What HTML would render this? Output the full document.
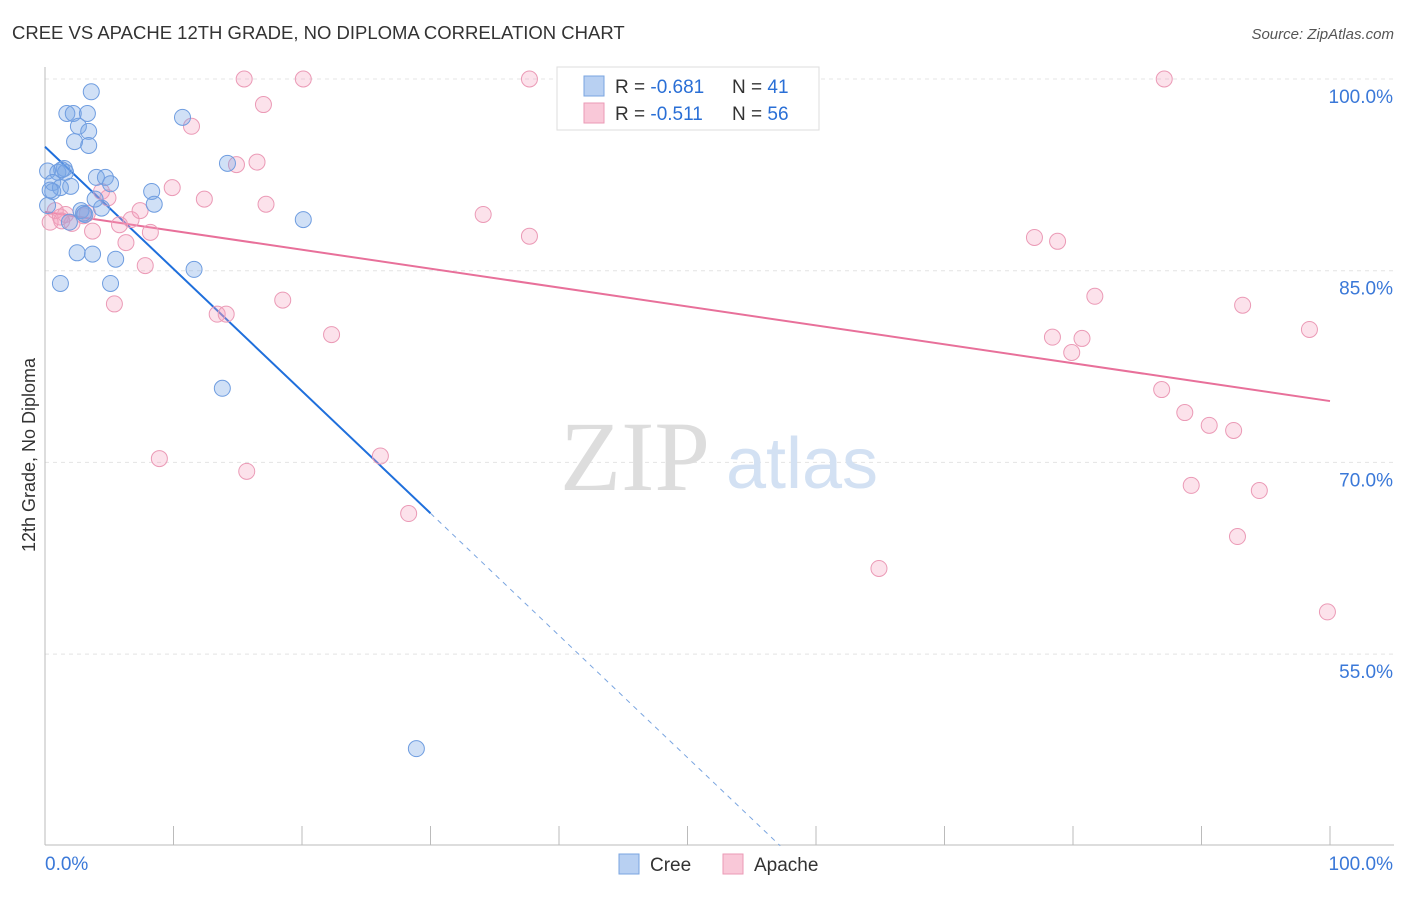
<!DOCTYPE html>
<html><head><meta charset="utf-8"><style>
body{margin:0;background:#fff;font-family:"Liberation Sans",sans-serif;}
</style></head><body>
<svg id="chart" width="1406" height="892" font-family="Liberation Sans, sans-serif">
<text x="12" y="39" font-size="18.5" fill="#333">CREE VS APACHE 12TH GRADE, NO DIPLOMA CORRELATION CHART</text>
<text x="1394" y="39" font-size="15" fill="#555" text-anchor="end" font-style="italic">Source: ZipAtlas.com</text>
<g id="grid"></g>
<g>
<text x="635" y="490" font-size="100" style="font-family:'Liberation Serif',serif" fill="#ddd" text-anchor="middle">ZIP</text>
<text x="802" y="488" font-size="72" fill="#d3e1f3" text-anchor="middle">atlas</text>
</g>
<g id="axes"></g>
<g id="lines"></g>
<g id="points"></g>
<text transform="translate(35,455) rotate(-90)" font-size="18" fill="#333" text-anchor="middle">12th Grade, No Diploma</text>
<g>
<rect x="557" y="67" width="262" height="63" fill="#fff" stroke="#ddd"/>
<rect x="584" y="76" width="20" height="20" fill="#b8d0f2" stroke="#7aa5e0"/>
<rect x="584" y="103" width="20" height="20" fill="#f9c8d8" stroke="#eb9ab6"/>
<text x="615" y="93" font-size="19" fill="#333">R = <tspan fill="#2a6fd6">-0.681</tspan></text>
<text x="732" y="93" font-size="19" fill="#333">N = <tspan fill="#2a6fd6">41</tspan></text>
<text x="615" y="120" font-size="19" fill="#333">R = <tspan fill="#2a6fd6">-0.511</tspan></text>
<text x="732" y="120" font-size="19" fill="#333">N = <tspan fill="#2a6fd6">56</tspan></text>
</g>
<g>
<rect x="619" y="854" width="20" height="20" fill="#b8d0f2" stroke="#7aa5e0"/>
<text x="650" y="871" font-size="19" fill="#333">Cree</text>
<rect x="723" y="854" width="20" height="20" fill="#f9c8d8" stroke="#eb9ab6"/>
<text x="754" y="871" font-size="19" fill="#333">Apache</text>
</g>
</svg>
<script>
const creeX=[3.6,1.7,2.2,3.3,2.6,3.4,2.3,3.4,10.7,14.2,0.2,1.0,1.5,1.6,0.6,1.2,2.0,0.6,4.0,4.7,5.1,8.3,8.5,2.8,3.0,4.4,3.9,1.9,0.2,20.1,2.5,3.7,5.5,11.6,1.2,5.1,13.8,28.9,0.4,3.1,1.3];
const creeY=[99.0,97.3,97.3,97.3,96.3,95.9,95.1,94.8,97.0,93.4,92.8,92.7,93.0,92.7,91.9,91.5,91.6,91.2,92.3,92.3,91.8,91.2,90.2,89.7,89.5,89.9,90.6,88.8,90.1,89.0,86.4,86.3,85.9,85.1,84.0,84.0,75.8,47.6,91.3,89.4,92.9];
const apacheX=[15.5,20.1,37.7,87.1,17.0,11.4,14.9,16.5,9.9,12.4,17.2,4.4,4.9,0.8,0.4,1.2,1.6,2.1,3.7,5.8,6.7,7.4,8.2,6.3,7.8,5.4,13.4,14.1,18.5,22.3,34.1,37.7,77.0,78.8,81.7,93.2,98.4,78.4,79.9,80.7,86.9,88.7,90.6,92.5,8.9,15.7,26.1,28.3,89.2,94.5,92.8,64.9,99.8,3.0,3.3,1.3];
const apacheY=[100,100,100,100,98.0,96.3,93.3,93.5,91.5,90.6,90.2,91.2,90.7,89.7,88.8,89.2,89.4,88.7,88.1,88.6,89.0,89.7,88.0,87.2,85.4,82.4,81.6,81.6,82.7,80.0,89.4,87.7,87.6,87.3,83.0,82.3,80.4,79.8,78.6,79.7,75.7,73.9,72.9,72.5,70.3,69.3,70.5,66.0,68.2,67.8,64.2,61.7,58.3,89.3,89.5,88.9];
const yTicks=[100,85,70,55];
const yTickLabels=["100.0%","85.0%","70.0%","55.0%"];
const xTicks=[0,10,20,30,40,50,60,70,80,90,100];
const creeTrend=[94.7,-0.956];
const apacheTrend=[89.6,-0.148];
const NS="http://www.w3.org/2000/svg";
const X=v=>45+v*12.85, Y=v=>79+(100-v)*12.78;
function mk(tag,attrs,parent){const e=document.createElementNS(NS,tag);for(const k in attrs)e.setAttribute(k,attrs[k]);document.getElementById(parent).appendChild(e);return e;}
yTicks.forEach((t,i)=>{
 const l=mk('line',{x1:45,x2:1394,y1:Y(t),y2:Y(t),stroke:'#e4e4e4','stroke-dasharray':'4,4'},'grid');
 
 
 const tx=mk('text',{x:1393,y:Y(t)+24,'font-size':19,fill:'#3a78d8','text-anchor':'end'},'grid');
 tx.textContent=yTickLabels[i];
 
 
});
mk('line',{x1:45,x2:45,y1:67,y2:845,stroke:'#bbb'},'axes');
mk('line',{x1:45,x2:1394,y1:845,y2:845,stroke:'#bbb'},'axes');
xTicks.forEach(t=>{const l=mk('line',{x1:X(t),x2:X(t),y1:826,y2:845,stroke:'#bbb'},'axes');
 
 });
let a=mk('text',{x:45,y:870,'font-size':19,fill:'#3a78d8'},'axes');a.textContent='0.0%';


a=mk('text',{x:1393,y:870,'font-size':19,fill:'#3a78d8','text-anchor':'end'},'axes');a.textContent='100.0%';


apacheX.forEach((x,i)=>{const c=mk('circle',{cx:X(x),cy:Y(apacheY[i]),r:8,fill:'rgba(244,160,190,0.3)',stroke:'#eb9ab6','stroke-width':1},'points');
 
 });
creeX.forEach((x,i)=>{const c=mk('circle',{cx:X(x),cy:Y(creeY[i]),r:8,fill:'rgba(120,165,230,0.35)',stroke:'#6f9de0','stroke-width':1},'points');
 
 });
const cy=x=>creeTrend[0]+creeTrend[1]*x, ay=x=>apacheTrend[0]+apacheTrend[1]*x;
let t=mk('line',{x1:X(0),y1:Y(cy(0)),x2:X(30),y2:Y(cy(30)),stroke:'#1f6fdc','stroke-width':2},'lines');


const xEnd=(creeTrend[0]-40)/(-creeTrend[1]);
t=mk('line',{x1:X(30),y1:Y(cy(30)),x2:X(xEnd),y2:Y(40),stroke:'#7aa5e0','stroke-width':1,'stroke-dasharray':'5,5'},'lines');


t=mk('line',{x1:X(0),y1:Y(ay(0)),x2:X(100),y2:Y(ay(100)),stroke:'#e8709a','stroke-width':2},'lines');


</script>
</body></html>
